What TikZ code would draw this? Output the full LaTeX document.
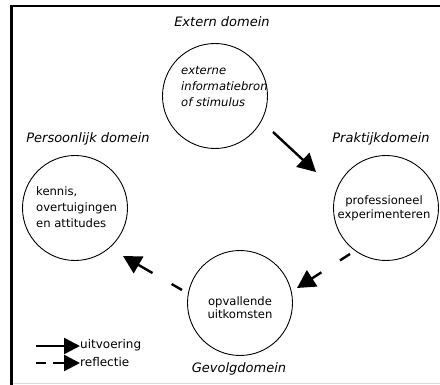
\documentclass[tikz,border=0pt]{standalone}
\usepackage{fontspec}
\setmainfont{DejaVu Sans}
\usetikzlibrary{arrows.meta}
\tikzset{
  dom/.style={circle, draw, line width=0.9pt, minimum size=105pt, inner sep=0pt},
  head/.style={font=\fontsize{13}{15}\selectfont\itshape, inner sep=0pt},
  inner/.style={font=\fontsize{11.6}{16}\selectfont, inner sep=0pt},
  flow/.style={line width=2.4pt, -{Triangle[length=18pt,width=19pt]}},
  refl/.style={flow, dash pattern=on 12pt off 22pt on 60pt},
  leg/.style={font=\fontsize{12}{14}\selectfont, inner sep=0pt, anchor=west}
}
\begin{document}
\begin{tikzpicture}[x=1pt,y=-1pt]
\useasboundingbox (0,0) rectangle (440,385);
\fill[white] (0,0) rectangle (440,385);
% frame
\draw[black!15, line width=1.5pt] (11,383.5) -- (440,383.5);
\draw[line width=2pt] (10,6) -- (440,6);
\draw[line width=3pt] (11.5,5) -- (11.5,385);

% circles
\node[dom] (ext) at (215,96) {};
\node[dom] (pers) at (75,208) {};
\node[dom] (prak) at (386,208) {};
\node[dom] (gev) at (240,303) {};

% domain headings
\node[head] (hext) at (222,22) {Extern domein};
\node[head] (hpers) at (88,139) {Persoonlijk domein};
\node[head] (hprak) at (381,139) {Praktijkdomein};
\node[head] (hgev) at (239,369) {Gevolgdomein};

% circle texts
\node[inner, anchor=west, align=left, font=\fontsize{11.6}{16}\selectfont\itshape] (text) at (181,87) {externe\\informatiebron\\of stimulus};
\node[inner, anchor=west, align=left] (tpers) at (36,207) {kennis,\\overtuigingen\\en attitudes};
\node[inner, align=center, font=\fontsize{11.6}{14}\selectfont] (tprak) at (384,208) {professioneel\\experimenteren};
\node[inner, align=center, font=\fontsize{11.6}{13}\selectfont] (tgev) at (240,308) {opvallende\\uitkomsten};

% arrows
\coordinate (a1s) at (273,132);
\coordinate (a1e) at (316,172);
\draw[flow] (a1s) -- (a1e);
\coordinate (a2s) at (350,254);
\coordinate (a2e) at (297,288);
\draw[refl] (a2s) -- (a2e);
\coordinate (a3s) at (182,290);
\coordinate (a3e) at (123,256);
\draw[refl] (a3s) -- (a3e);

% legend
\coordinate (l1s) at (36,346);
\coordinate (l1e) at (80,346);
\draw[line width=2.4pt, -{Triangle[length=16pt,width=16pt]}] (l1s) -- (l1e);
\node[leg] (luit) at (80,345) {uitvoering};
\coordinate (l2s) at (36,363);
\coordinate (l2e) at (80,363);
\draw[line width=2.4pt, dash pattern=on 10pt off 7pt on 40pt, -{Triangle[length=16pt,width=16pt]}] (l2s) -- (l2e);
\node[leg] (lref) at (80,362) {reflectie};
\end{tikzpicture}
\end{document}
